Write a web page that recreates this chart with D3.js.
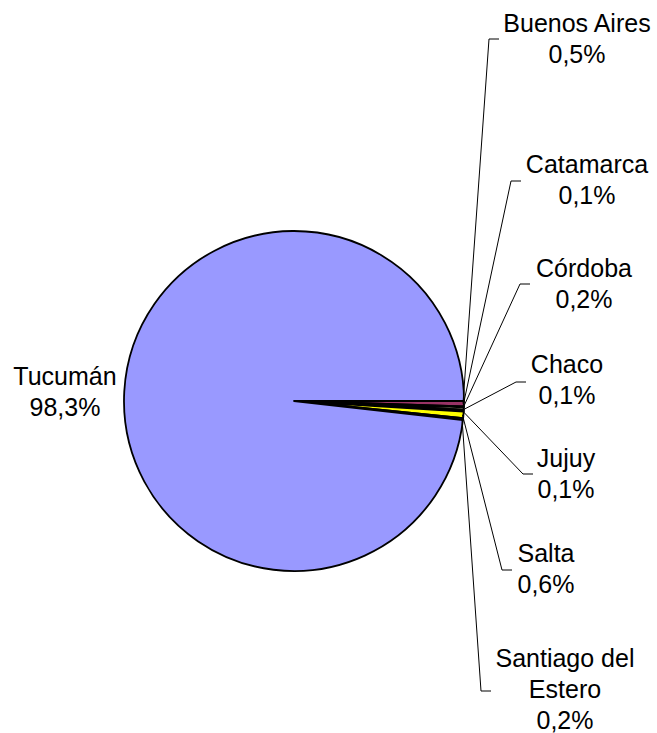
<!DOCTYPE html>
<html>
<head>
<meta charset="utf-8">
<style>
  body { margin: 0; background: #fff; }
  svg { display: block; font-family: "Liberation Sans", Arial, sans-serif; }
</style>
</head>
<body>
<div id="chart"></div>
<script src="https://cdn.jsdelivr.net/npm/d3@7"></script>
<script>
// data
const provinces = ["Buenos Aires", "Catamarca", "Córdoba", "Chaco", "Jujuy", "Salta", "Santiago del Estero", "Tucumán"];
const shares = [0.5, 0.1, 0.2, 0.1, 0.1, 0.6, 0.2, 98.3];
const shareLabels = ["0,5%", "0,1%", "0,2%", "0,1%", "0,1%", "0,6%", "0,2%", "98,3%"];
const sliceColors = ["#993366", "#000080", "#ffffcc", "#ccffff", "#000080", "#ffff00", "#000080", "#9999ff"];

// label text lines (wrapped the way excel did it)
const labelLines = [
  ["Buenos Aires"], ["Catamarca"], ["Córdoba"], ["Chaco"], ["Jujuy"], ["Salta"],
  ["Santiago del", "Estero"], ["Tucumán"]
];

// where each label sits: text centre x, first baseline y, leader elbow point (null = no leader)
const labelLayout = [
  { x: 577, y: 32,  elbow: [489, 39] },
  { x: 587, y: 173, elbow: [511, 181] },
  { x: 584, y: 277, elbow: [520, 284] },
  { x: 567, y: 373, elbow: [516, 382] },
  { x: 566, y: 467, elbow: [523, 474] },
  { x: 546, y: 562, elbow: [502, 570] },
  { x: 565, y: 667, elbow: [481, 691] },
  { x: 65,  y: 385, elbow: null }
];

const width = 657, height = 733;
const cx = 294, cy = 401, r = 170;
const lineH = 31;

const svg = d3.select("#chart").append("svg")
  .attr("width", width)
  .attr("height", height);

const pie = d3.pie()
  .sort(null)
  .value(d => d)
  .startAngle(Math.PI / 2)
  .endAngle(Math.PI / 2 + 2 * Math.PI);

const arcs = pie(shares);
const arc = d3.arc().innerRadius(0).outerRadius(r);
const rim = d3.arc().innerRadius(r - 1).outerRadius(r - 1);

const g = svg.append("g").attr("transform", `translate(${cx},${cy})`);

g.selectAll("path")
  .data(arcs)
  .enter()
  .append("path")
  .attr("d", arc)
  .attr("fill", (d, i) => sliceColors[i])
  .attr("stroke", "#000")
  .attr("stroke-width", 1.8)
  .attr("stroke-linejoin", "round");

// leader lines
arcs.forEach((d, i) => {
  const lay = labelLayout[i];
  if (!lay.elbow) return;
  const p = rim.centroid(d);
  const sx = cx + p[0], sy = cy + p[1];
  svg.append("polyline")
    .attr("points", [[sx, sy], lay.elbow, [lay.elbow[0] + 10, lay.elbow[1]]].map(q => q.join(",")).join(" "))
    .attr("fill", "none")
    .attr("stroke", "#000")
    .attr("stroke-width", 1);
});

// labels
provinces.forEach((p, i) => {
  const lay = labelLayout[i];
  const lines = labelLines[i].concat([shareLabels[i]]);
  const t = svg.append("text")
    .attr("text-anchor", "middle")
    .attr("font-size", 25)
    .attr("fill", "#000");
  lines.forEach((s, k) => {
    t.append("tspan")
      .attr("x", lay.x)
      .attr("y", lay.y + k * lineH)
      .text(s);
  });
});
</script>
</body>
</html>
